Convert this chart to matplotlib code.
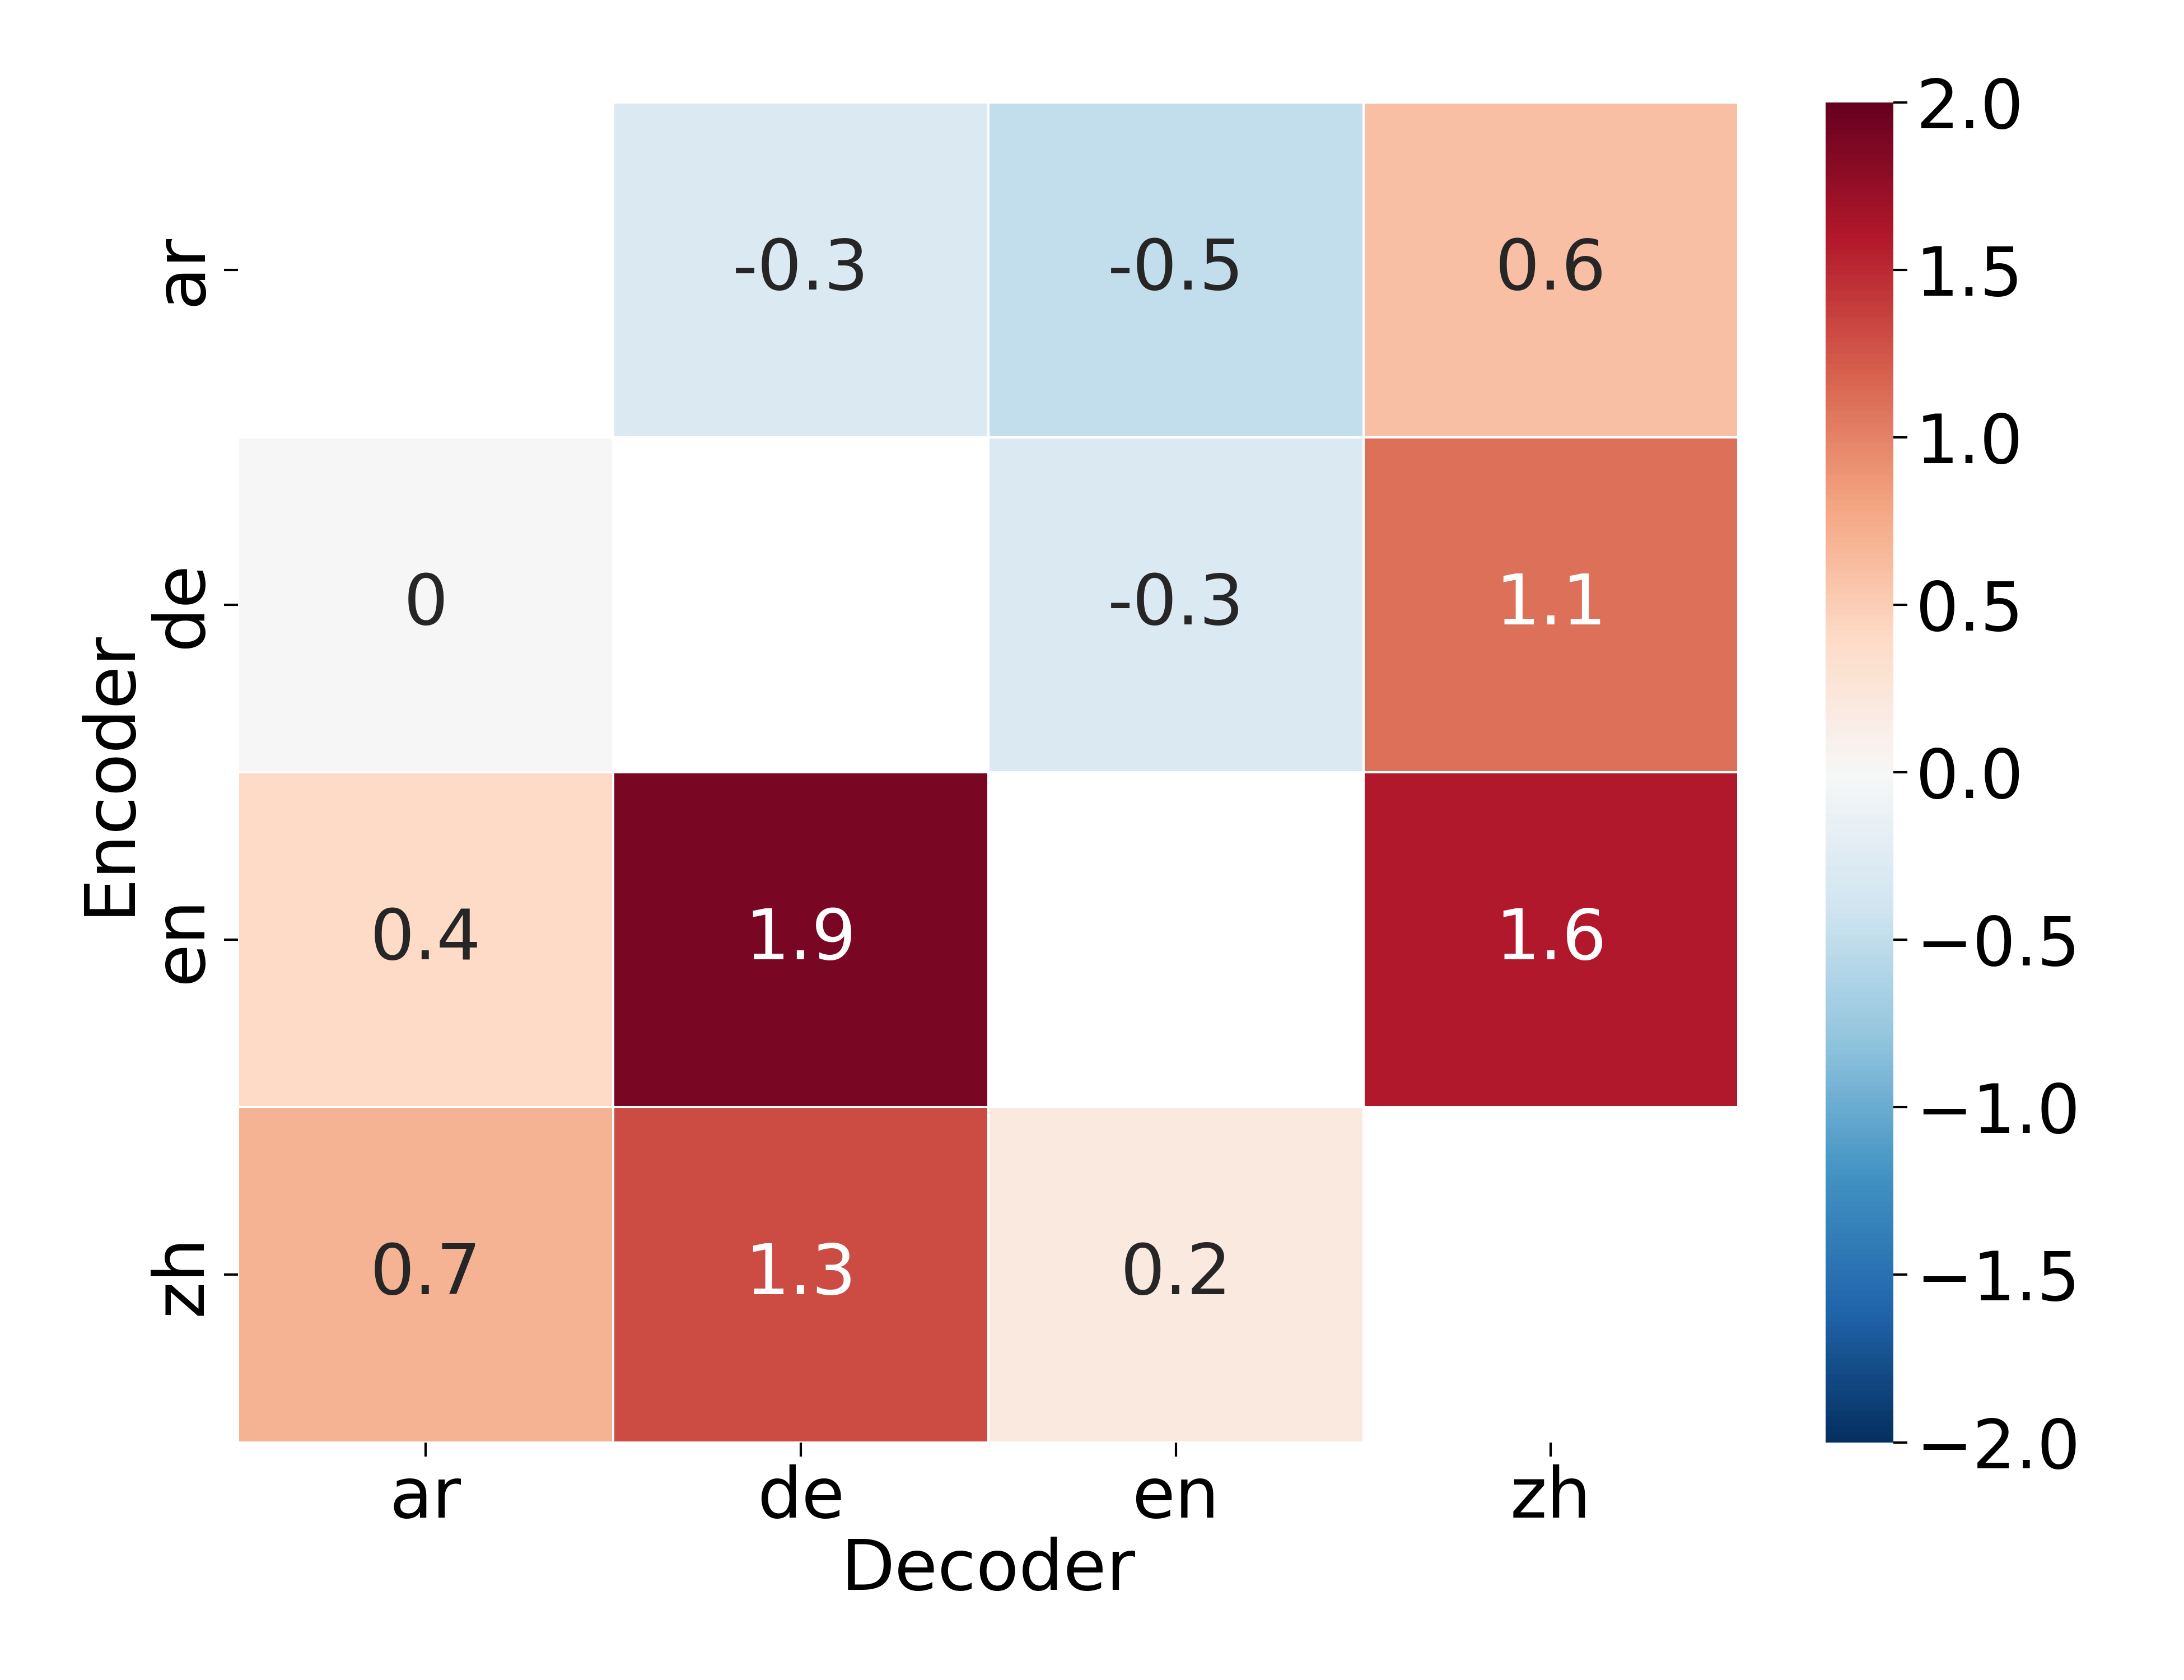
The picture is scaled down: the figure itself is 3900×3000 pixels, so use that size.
import numpy as np
import matplotlib
matplotlib.use('Agg')
import matplotlib.pyplot as plt
import seaborn as sns

langs = ['ar', 'de', 'en', 'zh']
row_ar = [np.nan, -0.3, -0.5, 0.6]
row_de = [0.0, np.nan, -0.3, 1.1]
row_en = [0.4, 1.9, np.nan, 1.6]
row_zh = [0.7, 1.3, 0.2, np.nan]

data = np.array([row_ar, row_de, row_en, row_zh])

fig = plt.figure(figsize=(13, 10), dpi=300)
ax = fig.add_axes([0.109, 0.1415, 0.687, 0.7975])
cax = fig.add_axes([0.836, 0.1415, 0.031, 0.7975])

sns.heatmap(data, ax=ax, cbar_ax=cax, cmap='RdBu_r', vmin=-2, vmax=2,
            annot=True, fmt='g', annot_kws={'size': 30},
            linewidths=0.5, linecolor='white',
            xticklabels=langs, yticklabels=langs)

ax.tick_params(axis='both', labelsize=30, length=6, width=1)
ax.set_yticklabels(langs, rotation=90, va='center')
ax.set_xlabel('Decoder', fontsize=30, labelpad=2)
ax.set_ylabel('Encoder', fontsize=30, labelpad=2)
cax.tick_params(labelsize=29, length=6, width=1)
cax.set_yticks([-2, -1.5, -1, -0.5, 0, 0.5, 1, 1.5, 2])
for s in cax.spines.values():
    s.set_visible(False)

fig.savefig('out.png', dpi=300)
